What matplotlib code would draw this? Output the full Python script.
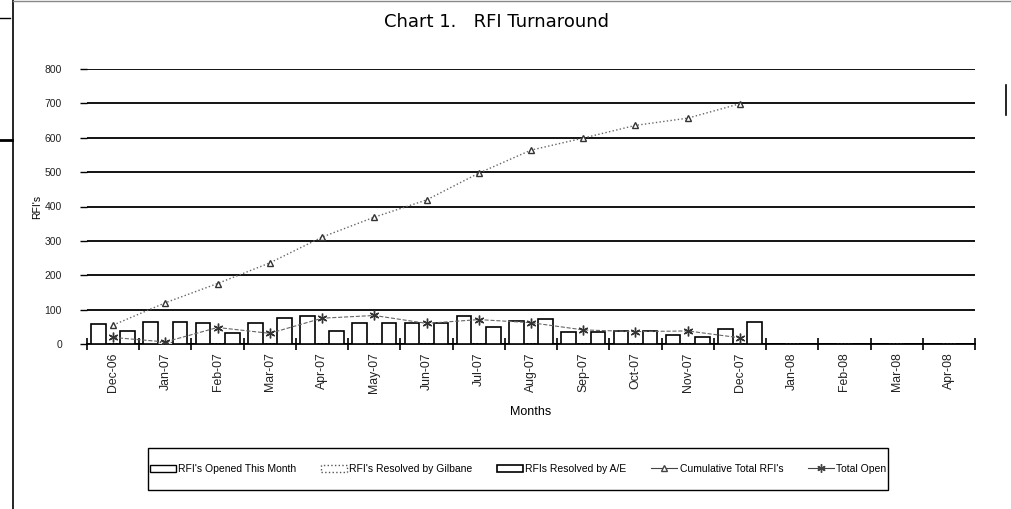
import matplotlib.pyplot as plt
import numpy as np
from matplotlib.lines import Line2D
from matplotlib.patches import Patch, Rectangle

plt.rcParams["font.family"] = ["Liberation Sans", "DejaVu Sans"]

months = ["Dec-06", "Jan-07", "Feb-07", "Mar-07", "Apr-07", "May-07", "Jun-07",
          "Jul-07", "Aug-07", "Sep-07", "Oct-07", "Nov-07", "Dec-07", "Jan-08",
          "Feb-08", "Mar-08", "Apr-08"]
opened = [57, 64, 60, 62, 81, 62, 62, 82, 68, 35, 39, 26, 43, 0, 0, 0, 0]
resolved_gilbane = [0, 5, 0, 0, 0, 0, 0, 0, 0, 0, 0, 0, 0, 0, 0, 0, 0]
resolved_ae = [37, 65, 31, 77, 38, 60, 62, 50, 72, 36, 39, 21, 63, 0, 0, 0, 0]
cumulative = [55, 120, 176, 236, 311, 369, 419, 497, 564, 599, 636, 657, 699]
total_open = [19, 6, 48, 31, 75, 83, 60, 71, 62, 41, 36, 38, 18]

asterisk = (6, 2, 0)

fig = plt.figure(figsize=(10.12, 5.09), dpi=100)
ax = fig.add_axes([87 / 1012, 1 - 344 / 509, 888 / 1012, 275 / 509])

x = np.arange(len(months))
w = 0.28
ax.bar(x - w, opened, w, color="white", edgecolor="black", linewidth=1.2, zorder=3)
ax.bar(x, resolved_gilbane, w, color="white", edgecolor="#555555", linewidth=1.0,
       linestyle=":", zorder=3)
ax.bar(x + w, resolved_ae, w, color="white", edgecolor="black", linewidth=1.2, zorder=3)

xc = np.arange(len(cumulative))
ax.plot(xc, cumulative, color="#666666", linestyle=":", linewidth=1.0, marker="^",
        markersize=5, markerfacecolor="white", markeredgecolor="#333333", zorder=4)
ax.plot(xc, total_open, color="#666666", linestyle="--", linewidth=0.8, marker=asterisk,
        markersize=7, markeredgewidth=1.0, markeredgecolor="#333333", zorder=4)

ax.set_xlim(-0.5, len(months) - 0.5)
ax.set_ylim(0, 800)
ax.set_yticks(range(0, 801, 100))
ax.yaxis.grid(True, color="black", linewidth=1.3)
ax.set_axisbelow(True)
for s in ["top", "right", "left"]:
    ax.spines[s].set_visible(False)
ax.spines["bottom"].set_linewidth(1.3)

ax.set_xticks(x)
ax.set_xticklabels(months, rotation=90, fontsize=8.8, color="#222222")
ax.set_xticks(np.arange(-0.5, len(months), 1), minor=True)
ax.tick_params(axis="x", which="major", length=0, pad=6)
ax.tick_params(axis="x", which="minor", direction="inout", length=9, width=1.2)
ax.tick_params(axis="y", length=5, width=1, labelsize=7.5, labelcolor="#222222", pad=13)

ax.set_xlabel("Months", fontsize=9, labelpad=9)
ax.set_ylabel("RFI's", fontsize=7.5, labelpad=2)
fig.text(497 / 1012, 1 - 22 / 509, "Chart 1.   RFI Turnaround", fontsize=13,
         family="DejaVu Sans", ha="center", va="center")

# legend box
fig.patches.append(Rectangle((148 / 1012, 1 - 490 / 509), 740 / 1012, 42 / 509,
                             transform=fig.transFigure, fill=False,
                             edgecolor="black", linewidth=1.0))
handles = [
    Patch(facecolor="white", edgecolor="black", linewidth=1.0),
    Patch(facecolor="white", edgecolor="#555555", linewidth=1.0, linestyle=":"),
    Patch(facecolor="white", edgecolor="black", linewidth=1.2),
    Line2D([], [], color="#444444", linewidth=0.8, marker="^", markersize=4,
           markerfacecolor="white"),
    Line2D([], [], color="#444444", linewidth=0.8, marker=asterisk, markersize=6),
]
labels = ["RFI's Opened This Month", "RFI's Resolved by Gilbane",
          "RFIs Resolved by A/E", "Cumulative Total RFI's", "Total Open"]
fig.legend(handles, labels, loc="center", bbox_to_anchor=(518 / 1012, 1 - 469 / 509),
           ncol=5, frameon=False, fontsize=7.5, handlelength=2.5, handletextpad=0.2,
           columnspacing=2.4)

# page border lines from the scan
fig.add_artist(Line2D([13 / 1012, 13 / 1012], [0, 1], color="black", linewidth=1.2))
fig.add_artist(Line2D([13 / 1012, 1], [0.999, 0.999], color="#888888", linewidth=1))
fig.add_artist(Line2D([1006 / 1012, 1006 / 1012], [1 - 115 / 509, 1 - 85 / 509],
                      color="black", linewidth=1.2))
fig.add_artist(Line2D([0, 10 / 1012], [1 - 18 / 509, 1 - 18 / 509], color="black",
                      linewidth=1))
fig.add_artist(Line2D([0, 12 / 1012], [1 - 140 / 509, 1 - 140 / 509], color="black",
                      linewidth=2))

fig.savefig("out.png", dpi=100)
